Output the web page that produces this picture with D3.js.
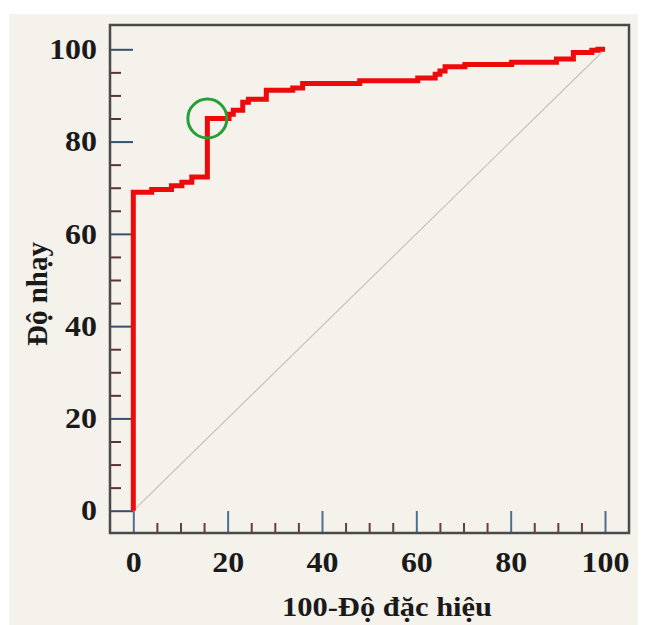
<!DOCTYPE html>
<html>
<head>
<meta charset="utf-8">
<script src="https://cdn.jsdelivr.net/npm/d3@7"></script>
<style>
  html, body { margin: 0; padding: 0; background: #ffffff; }
  svg { display: block; }
  text { font-family: "Liberation Serif", "Times New Roman", serif; font-weight: bold; fill: #1a1a1a; }
</style>
</head>
<body>
<svg id="chart" width="648" height="625"></svg>
<script>
// ROC curve: vertices of the empirical step function (percent)
const fpr = [0, 0, 3.9, 8.1, 10.3, 12.4, 15.7, 20.3, 21.2, 23.2, 24.4, 28.2, 33.8, 35.9, 48.0, 60.3, 64.0, 65.0, 66.1, 70.3, 80.2, 89.7, 93.3, 97.2, 98.5, 100];
const tpr = [0, 69.0, 69.6, 70.4, 71.2, 72.3, 85.0, 85.9, 86.8, 88.5, 89.2, 91.1, 91.6, 92.6, 93.2, 93.8, 94.6, 95.3, 96.2, 96.7, 97.2, 97.9, 99.3, 99.8, 100, 100];

// Optimal cut-off point (highlighted)
const cutoffX = [15.7];
const cutoffY = [85.0];

// Axis ticks
const majorTicks = [0, 20, 40, 60, 80, 100];
const minorTicks = [5, 10, 15, 25, 30, 35, 45, 50, 55, 65, 70, 75, 85, 90, 95];

const xTitle = "100-Độ đặc hiệu";
const yTitle = "Độ nhạy";

const svg = d3.select("#chart");

// page panel
svg.append("rect")
  .attr("x", 9).attr("y", 14)
  .attr("width", 629).attr("height", 611)
  .attr("fill", "#f5f1eb");

const frame = { left: 110, right: 629, top: 25, bottom: 533 };

const x = d3.scaleLinear().domain([0, 100]).range([133.3, 605]);
const y = d3.scaleLinear().domain([0, 100]).range([510.7, 49.3]);

// minor ticks (drawn first, under the majors)
const yMinor = d3.axisLeft(y).tickValues(minorTicks).tickSize(-11).tickFormat("");
svg.append("g").attr("transform", `translate(${frame.left},0)`).call(yMinor)
  .call(g => g.select(".domain").remove())
  .call(g => g.selectAll("line").attr("stroke", "#5a3434").attr("stroke-width", 2));

const xMinor = d3.axisBottom(x).tickValues(minorTicks).tickSize(-10).tickFormat("");
svg.append("g").attr("transform", `translate(0,${frame.bottom})`).call(xMinor)
  .call(g => g.select(".domain").remove())
  .call(g => g.selectAll("line").attr("stroke", "#6a3a40").attr("stroke-width", 2));

// major ticks + labels
const yAxis = d3.axisLeft(y).tickValues(majorTicks).tickSize(-23).tickPadding(13);
svg.append("g").attr("transform", `translate(${frame.left},0)`).call(yAxis)
  .call(g => g.select(".domain").remove())
  .call(g => g.selectAll("line").attr("stroke", "#34506e").attr("stroke-width", 2))
  .call(g => g.selectAll("text")
    .attr("font-size", 29).attr("font-family", null).attr("fill", "#1a1a1a")
    .attr("x", -13 / 1.1)
    .attr("transform", "scale(1.1,1)"));

const xAxis = d3.axisBottom(x).tickValues(majorTicks).tickSize(-22).tickPadding(18);
svg.append("g").attr("transform", `translate(0,${frame.bottom})`).call(xAxis)
  .call(g => g.select(".domain").remove())
  .call(g => g.selectAll("line").attr("stroke", "#4f6f8f").attr("stroke-width", 2))
  .call(g => g.selectAll("text")
    .attr("font-size", 29).attr("font-family", null).attr("fill", "#1a1a1a")
    .attr("transform", "scale(1.1,1)"));

// reference diagonal
svg.append("line")
  .attr("x1", x(0)).attr("y1", y(0))
  .attr("x2", x(100)).attr("y2", y(100))
  .attr("stroke", "#c9c2bf").attr("stroke-width", 1.2);

// ROC step curve
const pts = fpr.map((d, i) => [d, tpr[i]]);
const line = d3.line().x(d => x(d[0])).y(d => y(d[1])).curve(d3.curveStepAfter);
svg.append("path")
  .datum(pts)
  .attr("d", line)
  .attr("fill", "none")
  .attr("stroke", "#ec0a0a")
  .attr("stroke-width", 5)
  .attr("stroke-linejoin", "miter");

// highlight of the cut-off
svg.selectAll("circle.cut")
  .data(cutoffX.map((d, i) => [d, cutoffY[i]]))
  .join("circle")
  .attr("class", "cut")
  .attr("cx", d => x(d[0]))
  .attr("cy", d => y(d[1]))
  .attr("r", 19.5)
  .attr("fill", "none")
  .attr("stroke", "#22a035")
  .attr("stroke-width", 3);

// frame
svg.append("rect")
  .attr("x", frame.left).attr("y", frame.top)
  .attr("width", frame.right - frame.left)
  .attr("height", frame.bottom - frame.top)
  .attr("fill", "none")
  .attr("stroke", "#4a4a4a")
  .attr("stroke-width", 2.5);

// axis titles
svg.append("text")
  .attr("transform", "translate(387,616) scale(1.13,1)")
  .attr("text-anchor", "middle")
  .attr("font-size", 27)
  .text(xTitle);

svg.append("text")
  .attr("transform", "translate(47,294) rotate(-90)")
  .attr("text-anchor", "middle")
  .attr("font-size", 29)
  .text(yTitle);
</script>
</body>
</html>
